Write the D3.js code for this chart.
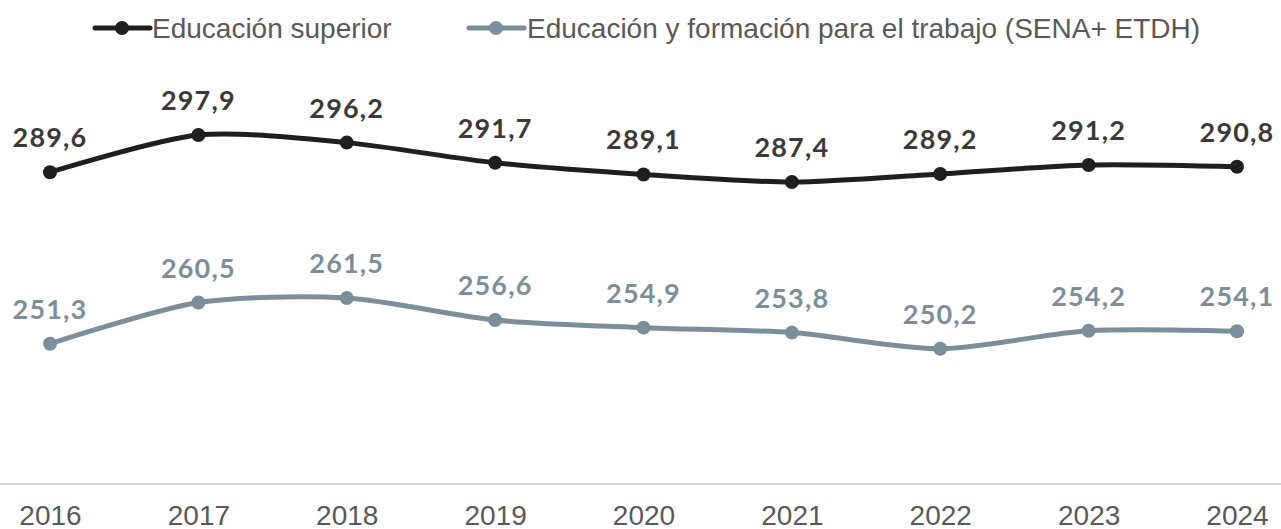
<!DOCTYPE html>
<html><head><meta charset="utf-8">
<script src="https://cdn.jsdelivr.net/npm/d3@7"></script>
<style>
html,body{margin:0;padding:0;background:#fff;overflow:hidden}
svg{display:block}
</style></head>
<body>
<script>
const years = ["2016","2017","2018","2019","2020","2021","2022","2023","2024"];
const superior = [289.6,297.9,296.2,291.7,289.1,287.4,289.2,291.2,290.8];
const trabajo = [251.3,260.5,261.5,256.6,254.9,253.8,250.2,254.2,254.1];
const seriesNames = ["Educación superior","Educación y formación para el trabajo (SENA+ ETDH)"];
const yDomain = [220,320];

const W=1281,H=529;
const svg=d3.select("body").append("svg").attr("width",W).attr("height",H);
const x=d3.scalePoint().domain(years).range([50,1237]);
const y=d3.scaleLinear().domain(yDomain).range([484,36]);

const series=[
  {name:seriesNames[0],values:superior,color:"#1f1f1f",label:"#3a3a3a"},
  {name:seriesNames[1],values:trabajo,color:"#7a8f9b",label:"#7a8f9b"}
];

// x axis
const xAxis=d3.axisBottom(x).tickSize(0).tickPadding(21);
const gx=svg.append("g").attr("transform","translate(0,484)").call(xAxis);
gx.select(".domain").remove();
gx.append("line").attr("x1",0).attr("x2",W).attr("y1",0).attr("y2",0)
  .attr("stroke","#d9d9d9").attr("stroke-width",2);
gx.selectAll("text").attr("font-family","Liberation Sans, Arial, sans-serif")
  .attr("font-size",28).attr("fill","#595959");

const line=d3.line().x((d,i)=>x(years[i])).y(d=>y(d)).curve(d3.curveCardinal.tension(0.2));

series.forEach(s=>{
  svg.append("path").datum(s.values).attr("d",line).attr("fill","none")
    .attr("stroke",s.color).attr("stroke-width",5).attr("stroke-linejoin","round");
  svg.append("g").selectAll("circle").data(s.values).join("circle")
    .attr("cx",(d,i)=>x(years[i])).attr("cy",d=>y(d)).attr("r",7).attr("fill",s.color);
  svg.append("g").selectAll("text").data(s.values).join("text")
    .attr("x",(d,i)=>x(years[i])).attr("y",d=>y(d)-25)
    .attr("text-anchor","middle")
    .attr("font-family","Lato, sans-serif").attr("font-weight","bold")
    .attr("font-size",27).attr("letter-spacing",1.2)
    .attr("fill",s.label)
    .text(d=>d.toFixed(1).replace(".",","));
});

// legend
const legendPos=[{lx:95,tx:152},{lx:469,tx:527}];
series.forEach((s,i)=>{
  const g=svg.append("g");
  const p=legendPos[i];
  g.append("line").attr("x1",p.lx).attr("x2",p.lx+55).attr("y1",28).attr("y2",28)
    .attr("stroke",s.color).attr("stroke-width",5).attr("stroke-linecap","round");
  g.append("circle").attr("cx",p.lx+27).attr("cy",28).attr("r",7).attr("fill",s.color);
  g.append("text").attr("x",p.tx).attr("y",38).attr("font-family","Liberation Sans, Arial, sans-serif")
    .attr("font-size",28).attr("fill","#595959").text(s.name);
});
</script>
</body></html>
